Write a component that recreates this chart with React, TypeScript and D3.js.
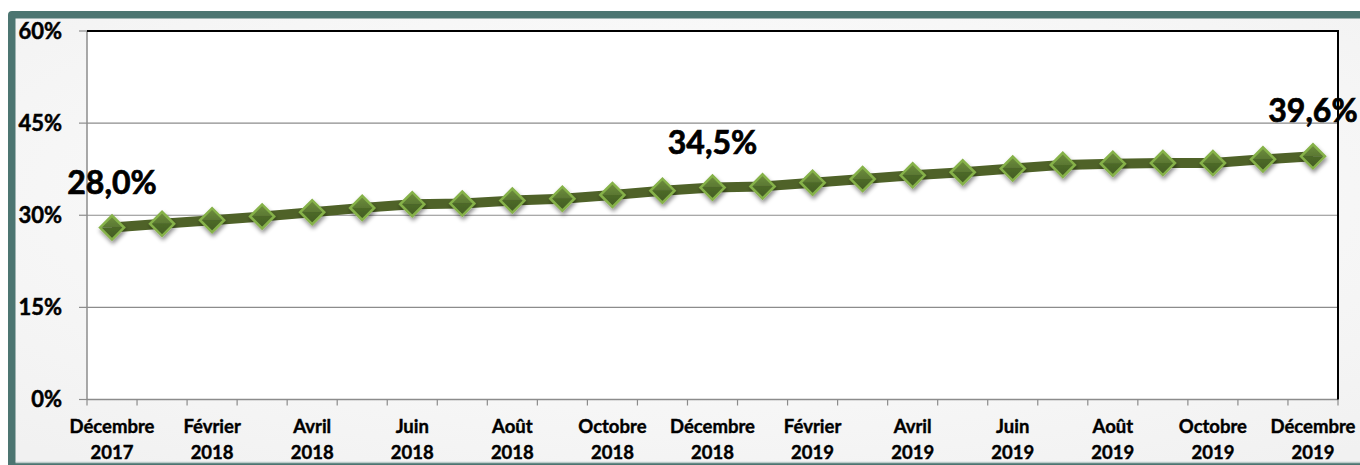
import React from 'react';
import * as d3 from 'd3';

const categories = [
  'Décembre 2017', 'Janvier 2018', 'Février 2018', 'Mars 2018', 'Avril 2018', 'Mai 2018',
  'Juin 2018', 'Juillet 2018', 'Août 2018', 'Septembre 2018', 'Octobre 2018', 'Novembre 2018',
  'Décembre 2018', 'Janvier 2019', 'Février 2019', 'Mars 2019', 'Avril 2019', 'Mai 2019',
  'Juin 2019', 'Juillet 2019', 'Août 2019', 'Septembre 2019', 'Octobre 2019', 'Novembre 2019',
  'Décembre 2019',
];
const values = [
  28.0, 28.6, 29.2, 29.8, 30.5, 31.2, 31.8, 31.9, 32.4, 32.7, 33.3, 34.0,
  34.5, 34.7, 35.3, 35.9, 36.5, 37.0, 37.6, 38.2, 38.4, 38.5, 38.5, 39.1, 39.6,
];
const labeledIndices = [0, 12, 24];
const yTicks = [0, 15, 30, 45, 60];

const W = 1360;
const H = 465;
const FONT = 'Lato, "Open Sans", sans-serif';

export default function App() {
  const left = 87, right = 1338, top = 31, bottom = 399.5;
  const x = d3.scaleBand<number>().domain(categories.map((_, i) => i)).range([left, right]).padding(0);
  const y = d3.scaleLinear().domain([0, 60]).range([bottom, top]);
  const cx = (i: number) => (x(i) as number) + x.bandwidth() / 2;
  const line = d3.line<number>().x((_, i) => cx(i)).y((v) => y(v));
  const fmt = (v: number) => v.toFixed(1).replace('.', ',') + '%';
  const m = 12;

  return (
    <svg width={W} height={H} style={{ position: 'absolute', left: 0, top: 0 }} xmlns="http://www.w3.org/2000/svg">
      <defs>
        <radialGradient id="bg" cx="50%" cy="40%" r="75%">
          <stop offset="0%" stopColor="#ffffff" />
          <stop offset="100%" stopColor="#f1f1f1" />
        </radialGradient>
        <filter id="shadow" x="-50%" y="-50%" width="200%" height="200%">
          <feDropShadow dx="1" dy="3" stdDeviation="2" floodColor="#000" floodOpacity="0.45" />
        </filter>
        <linearGradient id="mtop" x1="0" y1="0" x2="0" y2="1">
          <stop offset="0%" stopColor="#6f8f3e" />
          <stop offset="100%" stopColor="#5a7732" />
        </linearGradient>
        <linearGradient id="mbot" x1="0" y1="0" x2="0" y2="1">
          <stop offset="0%" stopColor="#4d6a28" />
          <stop offset="100%" stopColor="#435c23" />
        </linearGradient>
      </defs>
      <rect x={0} y={0} width={W} height={H} fill="#ffffff" />
      {/* frame */}
      <rect x={8} y={11} width={W} height={H} rx={4} fill="#4c7571" />
      <rect x={15.5} y={18.5} width={W} height={443.5} fill="url(#bg)" />
      <line x1={15.5} x2={W} y1={462.5} y2={462.5} stroke="#bccbca" strokeWidth={1.5} />
      {/* plot area */}
      <rect x={left} y={top} width={right - left} height={bottom - top} fill="#ffffff" />
      {yTicks.filter((t) => t > 0 && t < 60).map((t) => (
        <line key={t} x1={left} x2={right} y1={y(t)} y2={y(t)} stroke="#8c8c8c" strokeWidth={1.2} />
      ))}
      {/* y axis */}
      <line x1={left} x2={left} y1={top} y2={bottom + 0.5} stroke="#8c8c8c" strokeWidth={1.5} />
      {yTicks.map((t) => (
        <g key={t}>
          <line x1={left - 8} x2={left} y1={y(t)} y2={y(t)} stroke="#8c8c8c" strokeWidth={1.2} />
          <text x={62} y={y(t)} dy="0.36em" textAnchor="end" fontFamily={FONT} fontWeight={700} fontSize={22} fill="#000" stroke="#000" strokeWidth={0.5}>
            {t}%
          </text>
        </g>
      ))}
      {/* x axis */}
      <line x1={left} x2={right} y1={bottom} y2={bottom} stroke="#8c8c8c" strokeWidth={1.5} />
      {categories.map((_, i) => (
        <line key={i} x1={x(i) as number} x2={x(i) as number} y1={bottom} y2={bottom + 6} stroke="#8c8c8c" strokeWidth={1.2} />
      ))}
      <line x1={right} x2={right} y1={bottom} y2={bottom + 6} stroke="#8c8c8c" strokeWidth={1.2} />
      {categories.map((c, i) => {
        if (i % 2 !== 0) return null;
        const [mo, yr] = c.split(' ');
        return (
          <text key={i} x={cx(i)} textAnchor="middle" fontFamily={FONT} fontWeight={700} fontSize={18.5} fill="#000" stroke="#000" strokeWidth={0.4}>
            <tspan x={cx(i)} y={433}>{mo}</tspan>
            <tspan x={cx(i)} y={459}>{yr}</tspan>
          </text>
        );
      })}
      {/* top & right border */}
      <path d={`M${left},${top}H${right}V${bottom}`} fill="none" stroke="#000" strokeWidth={2} />
      {/* series */}
      <path d={line(values) as string} fill="none" stroke="#4f6228" strokeWidth={10} strokeLinejoin="round" />
      {values.map((v, i) => {
        const px = cx(i), py = y(v);
        return (
          <g key={i} filter="url(#shadow)">
            <path d={`M${px - m},${py}L${px},${py - m}L${px + m},${py}Z`} fill="url(#mtop)" />
            <path d={`M${px - m},${py}L${px},${py + m}L${px + m},${py}Z`} fill="url(#mbot)" />
            <path d={`M${px - m},${py}L${px},${py - m}L${px + m},${py}L${px},${py + m}Z`} fill="none" stroke="#86b24a" strokeWidth={2.5} strokeLinejoin="miter" />
          </g>
        );
      })}
      {labeledIndices.map((i) => (
        <text key={i} x={cx(i)} y={y(values[i]) - 34} textAnchor="middle" fontFamily={FONT} fontWeight={700} fontSize={32} fill="#000" stroke="#000" strokeWidth={0.7}>
          {fmt(values[i])}
        </text>
      ))}
    </svg>
  );
}
